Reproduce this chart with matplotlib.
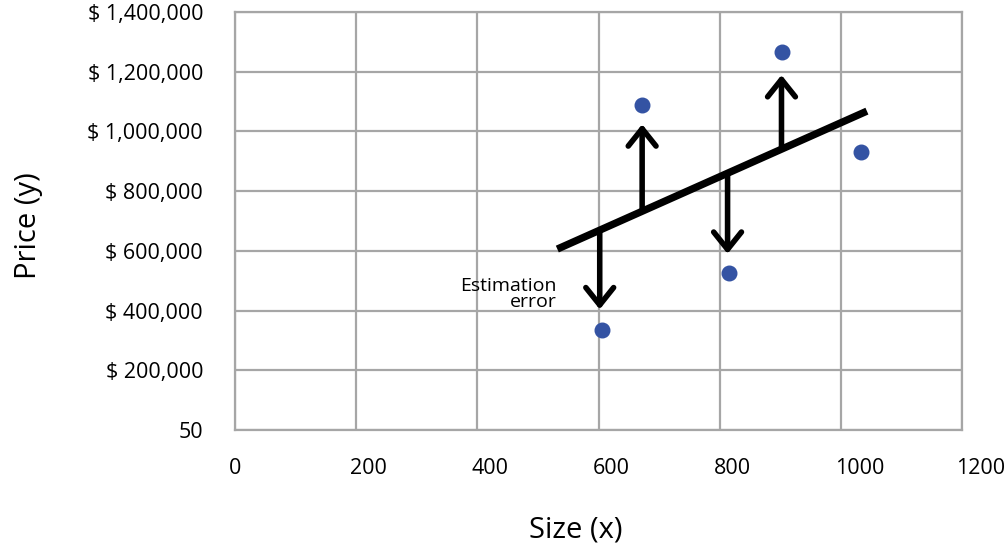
import matplotlib
matplotlib.use('Agg')

import matplotlib.pyplot as plt
from matplotlib.transforms import ScaledTranslation

# house data: size vs price
size = [606, 672, 815, 903, 1034]
price = [335000, 1088000, 525000, 1266000, 932000]

# fitted line end points
line_x = [532, 1043]
line_y = [606000, 1068000]

# arrow tips (estimation error direction)
arrow_x = [602, 672, 813, 902]
arrow_tip = [404000, 1024000, 590000, 1189000]

x_ticks = [0, 200, 400, 600, 800, 1000, 1200]
y_ticks = [0, 200000, 400000, 600000, 800000, 1000000, 1200000, 1400000]
y_labels = ['50', '$ 200,000', '$ 400,000', '$ 600,000', '$ 800,000',
            '$ 1,000,000', '$ 1,200,000', '$ 1,400,000']

plt.rcParams['font.family'] = ['Open Sans', 'DejaVu Sans']

fig = plt.figure(figsize=(10.06, 5.46), dpi=100)
ax = fig.add_axes([0.2336, 0.2125, 0.7227, 0.7655])

slope = (line_y[1] - line_y[0]) / (line_x[1] - line_x[0])

def on_line(x):
    return line_y[0] + slope * (x - line_x[0])

ax.plot(line_x, line_y, color='black', lw=5.3, solid_capstyle='butt', zorder=3)

for xa, tip in zip(arrow_x, arrow_tip):
    ax.annotate('', xy=(xa, tip), xytext=(xa, on_line(xa)),
                arrowprops=dict(arrowstyle='->,head_length=1.25,head_width=1.0',
                                color='black', lw=4, shrinkA=0, shrinkB=0),
                zorder=3)

ax.scatter(size, price, color='#3453a3', s=110, zorder=4)

ax.text(531, 455000, 'Estimation\nerror', ha='right', va='center',
        fontsize=14, linespacing=0.85, zorder=5)

ax.set_xlim(0, 1200)
ax.set_ylim(0, 1400000)
ax.set_xticks(x_ticks)
ax.set_xticklabels([str(t) for t in x_ticks])
ax.set_yticks(y_ticks)
ax.set_yticklabels(y_labels)
ax.tick_params(length=0, labelsize=15.5)
ax.tick_params(axis='x', pad=20)
ax.tick_params(axis='y', pad=23)

# x tick labels start just left of their gridline
shift = ScaledTranslation(-0.06, 0, fig.dpi_scale_trans)
for lab in ax.get_xticklabels():
    lab.set_horizontalalignment('left')
    lab.set_transform(lab.get_transform() + shift)

ax.grid(True, color='#a6a6a6', lw=1.6)
ax.set_axisbelow(True)
for sp in ax.spines.values():
    sp.set_color('#a6a6a6')
    sp.set_linewidth(1.6)

ax.set_xlabel('Size (x)', fontsize=21)
ax.set_ylabel('Price (y)', fontsize=21)
ax.xaxis.set_label_coords(0.469, -0.205)
ax.yaxis.set_label_coords(-0.264, 0.488)

plt.savefig('out.png', dpi=100)
